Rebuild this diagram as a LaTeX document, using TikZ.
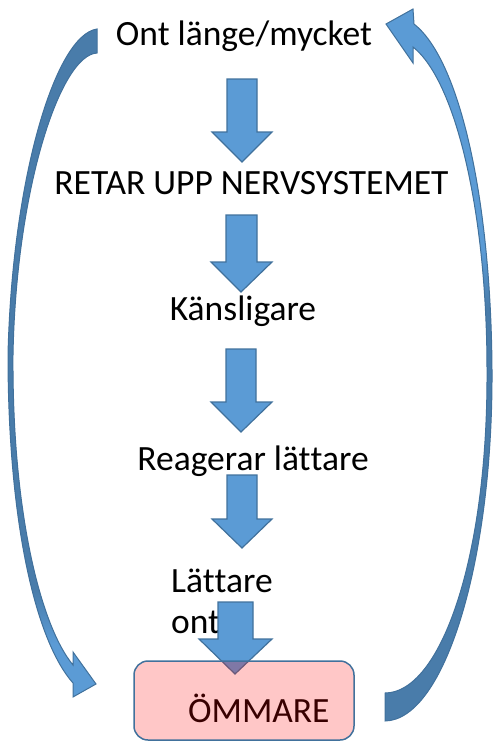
\documentclass[tikz,border=0pt]{standalone}
\usepackage{fontspec}
\setmainfont[Ligatures={NoCommon},RawFeature={-liga;-clig;-calt}]{Carlito}
\definecolor{arrfill}{RGB}{91,155,213}
\definecolor{arrdark}{RGB}{73,124,170}
\definecolor{arrline}{RGB}{65,113,156}
\pgfdeclareverticalshading{leftarr}{100bp}{color(0bp)=(arrfill); color(29bp)=(arrfill); color(33bp)=(arrdark); color(100bp)=(arrdark)}
\pgfdeclareverticalshading{rightarr}{100bp}{color(0bp)=(arrdark); color(54bp)=(arrdark); color(58bp)=(arrfill); color(100bp)=(arrfill)}
\tikzset{
  txt/.style={font=\fontsize{35.5}{41}\selectfont, inner sep=0pt, anchor=base},
  blk/.style={draw=arrline, fill=arrfill, line width=1.2pt, line join=miter},
  curv/.style={draw=arrline, line width=1pt, line join=miter},
  boxst/.style={draw=arrline, line width=1.5pt, fill=red, fill opacity=0.22, rounded corners=14pt}
}
% #1 shaft left, #2 shaft right, #3 head left, #4 head right, #5 top, #6 head start, #7 tip y, #8 tip x
\newcommand{\BlkArrow}[8]{\draw[blk] (#1,#5) -- (#2,#5) -- (#2,#6) -- (#4,#6) -- (#8,#7) -- (#3,#6) -- (#1,#6) -- cycle;}
\begin{document}
\begin{tikzpicture}[x=1pt,y=-1pt]
\useasboundingbox (0,0) rectangle (493,742);
% texts
\node[txt] (ont) at (244,45) {Ont länge/mycket};
\node[txt] (retar) at (251.5,194) {RETAR UPP NERVSYSTEMET};
\node[txt] (kans) at (243,320) {Känsligare};
\node[txt] (reag) at (253,470) {Reagerar lät\kern0pt tare};
\node[txt, anchor=base west] (latt1) at (171,592) {Lät\kern0pt tare};
\node[txt, anchor=base west] (latt2) at (171,633) {ont};
\node[txt, anchor=base west] (omm) at (188,722) {ÖMMARE};
% down block arrows
\BlkArrow{227}{257}{212}{272}{79}{132}{162}{242}
\BlkArrow{226}{257}{211}{272}{215}{262}{292}{241}
\BlkArrow{226}{256}{211}{272}{349}{402}{432}{241}
\BlkArrow{227}{257}{212}{272}{475}{519}{548}{242}
\BlkArrow{218}{253}{199}{272}{602}{639}{674}{235}
% left curved arrow
\shadedraw[curv, shading=leftarr]
  (97,29) .. controls (55,35) and (12,180) .. (8,355)
  .. controls (8,520) and (35,640) .. (73,683)
  -- (73,697) -- (96,684) -- (73,652) -- (73,665)
  .. controls (40,625) and (12,510) .. (13,355)
  .. controls (16,190) and (60,55) .. (97,53) -- cycle;
% right curved arrow
\shadedraw[curv, shading=rightarr]
  (385,721) .. controls (445,720) and (493,560) .. (492,370)
  .. controls (491,200) and (460,60) .. (414,24)
  -- (413,9) -- (386,24) -- (413,63) -- (413,47)
  .. controls (455,80) and (487,210) .. (487,370)
  .. controls (488,560) and (440,693) .. (385,693) -- cycle;
% box
\draw[boxst] (134,661) rectangle (354,740);
\end{tikzpicture}
\end{document}
